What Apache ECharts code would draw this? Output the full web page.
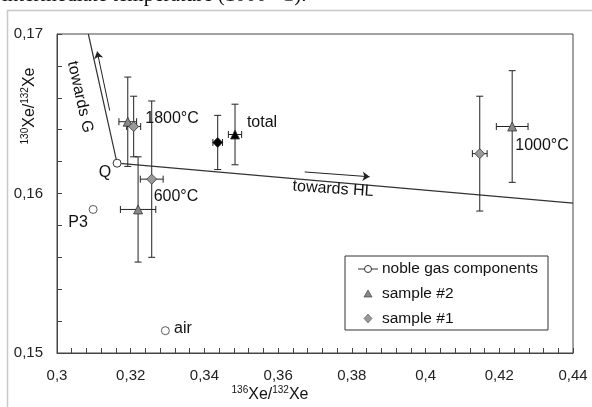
<!DOCTYPE html>
<html>
<head>
<meta charset="utf-8">
<script src="https://cdn.jsdelivr.net/npm/echarts@6/dist/echarts.min.js"></script>
<style>
  html, body { margin: 0; padding: 0; background: #fff; }
  #chart { width: 592px; height: 407px; }
</style>
</head>
<body>
<div id="chart"></div>
<script>
// noble gas components: mixing line G -> Q -> HL, plus single points
const mixLine = [[0.3085, 0.17], [0.3163, 0.1619], [0.44, 0.1594]];
const components = [
  { name: 'P3', value: [0.3098, 0.1590] },
  { name: 'air', value: [0.3294, 0.1514] }
];

// [x, y, xErr, yErr]
const sample2 = [
  [0.3192, 0.1645, 0.0024, 0.0028],  // 1800°C
  [0.3220, 0.1590, 0.0048, 0.0033],  // 600°C
  [0.4235, 0.1642, 0.0043, 0.0035]   // 1000°C
];
const sample1 = [
  [0.3208, 0.1642, 0.0019, 0.0019],  // 1800°C
  [0.3257, 0.1609, 0.0031, 0.0049],  // 600°C
  [0.4147, 0.1625, 0.0020, 0.0036]   // 1000°C
];
const total2 = [[0.3483, 0.1637, 0.0018, 0.0019]];
const total1 = [[0.3436, 0.1632, 0.0013, 0.0017]];

// arrows [from, to]
const arrows = [
  [[0.3143, 0.1652], [0.3109, 0.1689]],  // towards G
  [[0.3672, 0.16135], [0.3848, 0.16105]]  // towards HL
];

const FONT = 'Liberation Sans, Arial, sans-serif';
const comma = v => String(+v.toFixed(4)).replace('.', ',');

function errorBars(data) {
  return {
    type: 'custom',
    silent: true,
    z: 2,
    data: data,
    renderItem: function (params, api) {
      const x = api.value(0), y = api.value(1), ex = api.value(2), ey = api.value(3);
      const t = api.coord([x, y + ey]), b = api.coord([x, y - ey]);
      const l = api.coord([x - ex, y]), r = api.coord([x + ex, y]);
      const cap = 3.5;
      const st = { stroke: '#222', lineWidth: 1 };
      const seg = (x1, y1, x2, y2) => ({ type: 'line', shape: { x1, y1, x2, y2 }, style: st });
      return {
        type: 'group',
        children: [
          seg(t[0], t[1], b[0], b[1]),
          seg(t[0] - cap, t[1], t[0] + cap, t[1]),
          seg(b[0] - cap, b[1], b[0] + cap, b[1]),
          seg(l[0], l[1], r[0], r[1]),
          seg(l[0], l[1] - cap, l[0], l[1] + cap),
          seg(r[0], r[1] - cap, r[0], r[1] + cap)
        ]
      };
    }
  };
}

function points(data, symbol, color, size) {
  return {
    type: 'scatter',
    z: 3,
    data: data.map(d => [d[0], d[1]]),
    symbol: symbol,
    symbolSize: size,
    itemStyle: { color: color, borderColor: '#333', borderWidth: 0.8, opacity: 1 }
  };
}

const chart = echarts.init(document.getElementById('chart'));

const txt = (x, y, text, size, extra) => Object.assign({
  type: 'text', x: x, y: y,
  style: Object.assign({ text: text, font: (size || 16) + 'px ' + FONT, fill: '#111', align: 'center', verticalAlign: 'middle' }, extra || {})
});

const supRich = {
  s: { fontSize: 10, fontFamily: FONT, verticalAlign: 'top', lineHeight: 11, fill: '#111' },
  n: { fontSize: 16, fontFamily: FONT, lineHeight: 19, fill: '#111' }
};

chart.setOption({
  animation: false,
  grid: { left: 57, right: 19, top: 34, bottom: 54, show: true, borderColor: '#444', borderWidth: 1 },
  xAxis: {
    type: 'value', min: 0.3, max: 0.44, interval: 0.02,
    axisLine: { lineStyle: { color: '#444' } },
    axisTick: { inside: true, length: 5, lineStyle: { color: '#444' } },
    minorTick: { show: true, splitNumber: 5, length: 5, lineStyle: { color: '#444' } },
    splitLine: { show: false },
    axisLabel: { margin: 15, color: '#222', fontSize: 15, fontFamily: FONT, formatter: comma }
  },
  yAxis: {
    type: 'value', min: 0.15, max: 0.17, interval: 0.01,
    axisLine: { show: true, lineStyle: { color: '#444' } },
    axisTick: { show: true, inside: true, length: 5, lineStyle: { color: '#444' } },
    minorTick: { show: true, splitNumber: 5, length: 5, lineStyle: { color: '#444' } },
    splitLine: { show: false },
    axisLabel: { margin: 14, color: '#222', fontSize: 15, fontFamily: FONT, formatter: comma }
  },
  series: [
    {
      name: 'noble gas components',
      type: 'line',
      z: 1,
      data: mixLine.map((p, i) => ({ value: p, symbol: i === 1 ? 'circle' : 'none' })),
      symbolSize: 8,
      lineStyle: { color: '#333', width: 1.2 },
      itemStyle: { color: '#fff', borderColor: '#333', borderWidth: 1 },
      label: { show: false }
    },
    {
      type: 'scatter',
      z: 3,
      data: components,
      symbol: 'circle',
      symbolSize: 8,
      itemStyle: { color: '#fff', borderColor: '#333', borderWidth: 1 }
    },
    {
      type: 'lines',
      coordinateSystem: 'cartesian2d',
      z: 1,
      symbol: ['none', 'arrow'],
      symbolSize: 7,
      lineStyle: { color: '#222', width: 1, opacity: 1 },
      data: arrows.map(a => ({ coords: a }))
    },
    errorBars(sample2),
    errorBars(sample1),
    errorBars(total2),
    errorBars(total1),
    points(sample2, 'triangle', '#888', 9),
    points(sample1, 'diamond', '#999', 10),
    points(total2, 'triangle', '#000', 9),
    points(total1, 'diamond', '#000', 10)
  ],
  graphic: [
    // page frame and cut-off caption
    { type: 'line', shape: { x1: 7.5, y1: 10, x2: 7.5, y2: 407 }, style: { stroke: '#c8c8c8', lineWidth: 1.5 } },
    { type: 'line', shape: { x1: 7, y1: 10.5, x2: 592, y2: 10.5 }, style: { stroke: '#c8c8c8', lineWidth: 1.5 } },
    txt(2, 6, 'intermediate temperature (1000 °C).', 21, { font: '21px Liberation Serif, Times New Roman, serif', align: 'left', verticalAlign: 'bottom' }),
    // axis names
    { type: 'text', x: 30, y: 106, rotation: Math.PI / 2,
      style: { text: '{s|130}{n|Xe/}{s|132}{n|Xe}', rich: supRich, align: 'center', verticalAlign: 'middle' } },
    { type: 'text', x: 270, y: 395,
      style: { text: '{s|136}{n|Xe/}{s|132}{n|Xe}', rich: supRich, align: 'center', verticalAlign: 'middle' } },
    // annotations
    txt(105, 173, 'Q'),
    txt(78, 223, 'P3'),
    txt(183, 329, 'air'),
    txt(172, 119, '1800°C'),
    txt(176, 197, '600°C'),
    txt(542, 146, '1000°C'),
    txt(262, 123, 'total'),
    { type: 'text', x: 80, y: 97, rotation: -77.5 * Math.PI / 180,
      style: { text: 'towards G', font: '16px ' + FONT, fill: '#111', align: 'center', verticalAlign: 'middle' } },
    { type: 'text', x: 333, y: 189, rotation: -4 * Math.PI / 180,
      style: { text: 'towards HL', font: '16px ' + FONT, fill: '#111', align: 'center', verticalAlign: 'middle' } },
    // legend box
    { type: 'rect', shape: { x: 345, y: 256, width: 203, height: 74 }, style: { fill: '#fff', stroke: '#333', lineWidth: 1 }, z: 10 },
    { type: 'line', shape: { x1: 358, y1: 269, x2: 378, y2: 269 }, style: { stroke: '#333', lineWidth: 1 }, z: 11 },
    { type: 'circle', shape: { cx: 368, cy: 269, r: 3.5 }, style: { fill: '#fff', stroke: '#333', lineWidth: 1 }, z: 12 },
    { type: 'polygon', shape: { points: [[368, 290], [372, 297], [364, 297]] }, style: { fill: '#888', stroke: '#333', lineWidth: 0.6 }, z: 11 },
    { type: 'polygon', shape: { points: [[368, 314], [372, 318.5], [368, 323], [364, 318.5]] }, style: { fill: '#999', stroke: '#555', lineWidth: 0.6 }, z: 11 },
    txt(382, 269, 'noble gas components', 15.5, { align: 'left' }),
    txt(382, 294, 'sample #2', 15.5, { align: 'left' }),
    txt(382, 318.5, 'sample #1', 15.5, { align: 'left' })
  ].map(g => Object.assign({ z: 20 }, g))
});
</script>
</body>
</html>
